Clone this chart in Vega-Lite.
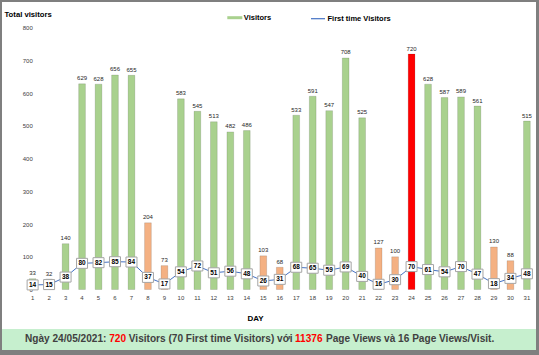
{
  "$schema": "https://vega.github.io/schema/vega-lite/v6.json",
  "autosize": {"type": "pad"},
  "padding": {"left": 2, "top": 2, "right": 3, "bottom": 5},
  "background": "#7f7f7f",
  "config": {
    "font": "Liberation Sans",
    "view": {"stroke": null},
    "concat": {"spacing": 0}
  },
  "spacing": 0,
  "bounds": "flush",
  "vconcat": [
    {
      "width": 534,
      "height": 327,
      "view": {"fill": "white", "stroke": null},
      "data": {"values": [
        {"day": 1, "visitors": 33, "first": 14, "kind": "weekday"},
        {"day": 2, "visitors": 32, "first": 15, "kind": "weekday"},
        {"day": 3, "visitors": 140, "first": 38, "kind": "weekday"},
        {"day": 4, "visitors": 629, "first": 80, "kind": "weekday"},
        {"day": 5, "visitors": 628, "first": 82, "kind": "weekday"},
        {"day": 6, "visitors": 656, "first": 85, "kind": "weekday"},
        {"day": 7, "visitors": 655, "first": 84, "kind": "weekday"},
        {"day": 8, "visitors": 204, "first": 37, "kind": "weekend"},
        {"day": 9, "visitors": 73, "first": 17, "kind": "weekend"},
        {"day": 10, "visitors": 583, "first": 54, "kind": "weekday"},
        {"day": 11, "visitors": 545, "first": 72, "kind": "weekday"},
        {"day": 12, "visitors": 513, "first": 51, "kind": "weekday"},
        {"day": 13, "visitors": 482, "first": 56, "kind": "weekday"},
        {"day": 14, "visitors": 486, "first": 48, "kind": "weekday"},
        {"day": 15, "visitors": 103, "first": 26, "kind": "weekend"},
        {"day": 16, "visitors": 68, "first": 31, "kind": "weekend"},
        {"day": 17, "visitors": 533, "first": 68, "kind": "weekday"},
        {"day": 18, "visitors": 591, "first": 65, "kind": "weekday"},
        {"day": 19, "visitors": 547, "first": 59, "kind": "weekday"},
        {"day": 20, "visitors": 708, "first": 69, "kind": "weekday"},
        {"day": 21, "visitors": 525, "first": 40, "kind": "weekday"},
        {"day": 22, "visitors": 127, "first": 16, "kind": "weekend"},
        {"day": 23, "visitors": 100, "first": 30, "kind": "weekend"},
        {"day": 24, "visitors": 720, "first": 70, "kind": "today"},
        {"day": 25, "visitors": 628, "first": 61, "kind": "weekday"},
        {"day": 26, "visitors": 587, "first": 54, "kind": "weekday"},
        {"day": 27, "visitors": 589, "first": 70, "kind": "weekday"},
        {"day": 28, "visitors": 561, "first": 47, "kind": "weekday"},
        {"day": 29, "visitors": 130, "first": 18, "kind": "weekend"},
        {"day": 30, "visitors": 88, "first": 34, "kind": "weekend"},
        {"day": 31, "visitors": 515, "first": 48, "kind": "weekday"}
      ]},
      "encoding": {
        "x": {
          "field": "day", "type": "ordinal",
          "scale": {"paddingInner": 0.59, "paddingOuter": 1.5875, "align": 0.8265},
          "axis": {
            "labelAngle": 0, "ticks": false, "domain": false, "grid": false,
            "labelFontSize": 6, "labelColor": "#404040", "labelPadding": 0,
            "offset": -35, "title": "DAY", "titleFontSize": 8, "titleFontWeight": "bold",
            "titleColor": "black", "titlePadding": 14, "titleX": 253, "titleAlign": "center"
          }
        }
      },
      "layer": [
        {
          "mark": {"type": "bar", "stroke": "black", "strokeOpacity": 0.12, "strokeWidth": 1},
          "encoding": {
            "y": {
              "field": "visitors", "type": "quantitative",
              "scale": {"domain": [-120.8, 879.2], "zero": false, "nice": false},
              "axis": {
                "values": [0, 100, 200, 300, 400, 500, 600, 700, 800],
                "ticks": false, "domain": false, "grid": false,
                "labelFontSize": 6, "labelColor": "#404040", "labelPadding": 2.7,
                "offset": -33,
                "title": "Total visitors", "titleAngle": 0, "titleAlign": "left",
                "titleBaseline": "middle", "titleX": -31, "titleY": 12.3,
                "titleFontSize": 7.7, "titleFontWeight": "bold", "titleColor": "black"
              }
            },
            "y2": {"datum": 0},
            "fill": {
              "field": "kind", "type": "nominal",
              "scale": {"domain": ["weekday", "weekend", "today"], "range": ["#a9d18e", "#f4b183", "#ff0000"]},
              "legend": {
                "orient": "none", "legendX": 225.3, "legendY": 8.2,
                "values": ["weekday"], "labelExpr": "'Visitors'", "title": null,
                "symbolType": "M-1,-0.2H1V0.2H-1Z", "symbolSize": 225,
                "symbolStrokeWidth": 0, "padding": 0,
                "labelFontSize": 7.5, "labelFontWeight": "bold", "labelColor": "black",
                "labelOffset": 1.5
              }
            }
          }
        },
        {
          "mark": {"type": "text", "baseline": "bottom", "dy": -2.5, "fontSize": 6, "color": "#262626"},
          "encoding": {
            "y": {"field": "visitors", "type": "quantitative"},
            "text": {"field": "visitors", "type": "quantitative"}
          }
        },
        {
          "mark": {"type": "line", "strokeWidth": 1},
          "encoding": {
            "y": {"field": "first", "type": "quantitative"},
            "stroke": {
              "datum": "First time Visitors",
              "scale": {"range": ["#4472c4"]},
              "legend": {
                "orient": "none", "legendX": 308, "legendY": 8.7, "title": null,
                "symbolType": "stroke", "symbolSize": 196, "symbolStrokeWidth": 1.2,
                "padding": 0, "labelFontSize": 7.5, "labelFontWeight": "bold",
                "labelColor": "black", "labelOffset": 1.5
              }
            }
          }
        },
        {
          "mark": {"type": "point", "shape": "M-1.1,-1H1.1V1H-1.1Z", "size": 100, "filled": true, "fill": "white", "stroke": "#a5a5a5", "strokeWidth": 1, "opacity": 1},
          "encoding": {
            "y": {"field": "first", "type": "quantitative"}
          }
        },
        {
          "mark": {"type": "text", "baseline": "middle", "fontSize": 6.5, "fontWeight": "bold", "color": "black"},
          "encoding": {
            "y": {"field": "first", "type": "quantitative"},
            "text": {"field": "first", "type": "quantitative"}
          }
        }
      ]
    },
    {
      "width": 534,
      "height": 21,
      "view": {"fill": "#c6efce", "stroke": null},
      "data": {"values": [{}]},
      "layer": [
        {"mark": {"type": "text", "text": "Ngày 24/05/2021:", "x": 23, "y": 10.3, "align": "left", "baseline": "middle", "fontSize": 10.1, "fontWeight": "bold", "color": "#404040"}, "encoding": {}},
        {"mark": {"type": "text", "text": "720", "x": 107.2, "y": 10.3, "align": "left", "baseline": "middle", "fontSize": 10.1, "fontWeight": "bold", "color": "#ff0000"}, "encoding": {}},
        {"mark": {"type": "text", "text": "Visitors (70 First time Visitors) với", "x": 126.8, "y": 10.3, "align": "left", "baseline": "middle", "fontSize": 10.1, "fontWeight": "bold", "color": "#404040"}, "encoding": {}},
        {"mark": {"type": "text", "text": "11376", "x": 293, "y": 10.3, "align": "left", "baseline": "middle", "fontSize": 10.1, "fontWeight": "bold", "color": "#ff0000"}, "encoding": {}},
        {"mark": {"type": "text", "text": "Page Views và 16 Page Views/Visit.", "x": 323.9, "y": 10.3, "align": "left", "baseline": "middle", "fontSize": 10.1, "fontWeight": "bold", "color": "#404040"}, "encoding": {}}
      ]
    }
  ]
}
